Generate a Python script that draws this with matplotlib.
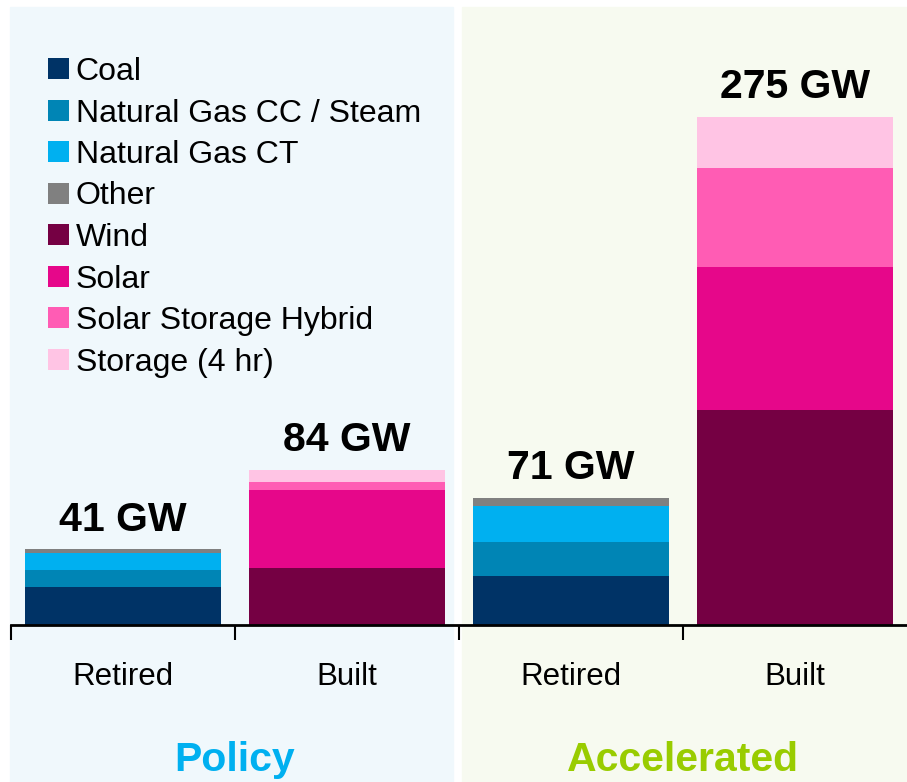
import numpy as np
import matplotlib.pyplot as plt
from matplotlib import font_manager
from matplotlib.patches import Rectangle

# pick a narrow font if we have one
names = set(f.name for f in font_manager.fontManager.ttflist)
if 'Liberation Sans Narrow' in names:
    plt.rcParams['font.family'] = 'Liberation Sans Narrow'
else:
    plt.rcParams['font.family'] = 'Liberation Sans'

categories = ['Retired', 'Built', 'Retired', 'Built']
scenarios = ['Policy', 'Accelerated']
totals = ['41 GW', '84 GW', '71 GW', '275 GW']

sources = ['Coal', 'Natural Gas CC / Steam', 'Natural Gas CT', 'Other',
           'Wind', 'Solar', 'Solar Storage Hybrid', 'Storage (4 hr)']
colors = ['#003366', '#0085B5', '#00B0F0', '#808080',
          '#750043', '#E6078A', '#FF5CB4', '#FFC4E4']

# GW per source for each bar
coal = [20.3, 0, 26.6, 0]
gas_cc = [9.2, 0, 18.4, 0]
gas_ct = [9.6, 0, 19.6, 0]
other = [1.9, 0, 4.2, 0]
wind = [0, 31.0, 0, 116.4]
solar = [0, 42.3, 0, 77.6]
hybrid = [0, 3.9, 0, 53.6]
storage = [0, 6.8, 0, 27.4]
values = [coal, gas_cc, gas_ct, other, wind, solar, hybrid, storage]

W, H = 907, 782
fig = plt.figure(figsize=(W / 100, H / 100), dpi=100)

# scenario background panels
fig.add_artist(Rectangle((10 / W, 0), 443 / W, (H - 7) / H,
                         transform=fig.transFigure, color='#F0F8FC', zorder=-10))
fig.add_artist(Rectangle((462 / W, 0), 445 / W, (H - 7) / H,
                         transform=fig.transFigure, color='#F7FAF0', zorder=-10))

ax = fig.add_axes([11 / W, (H - 625) / H, (W - 11) / W, (625 - 7) / H])
ax.set_facecolor('none')

x = np.arange(len(categories))
bottom = np.zeros(len(categories))
for name, vals, c in zip(sources, values, colors):
    ax.bar(x, vals, width=0.875, bottom=bottom, color=c, label=name, zorder=2)
    bottom += np.array(vals)

for xi, top, lab in zip(x, bottom, totals):
    ax.text(xi, top + 10, lab, ha='center', va='baseline', fontsize=29.5,
            fontweight='bold')

ax.set_xlim(-0.5, 3.5)
ax.set_ylim(0, 334.5)
ax.set_yticks([])
for s in ['top', 'right', 'left']:
    ax.spines[s].set_visible(False)
ax.spines['bottom'].set_linewidth(2)

ax.set_xticks([-0.5, 0.5, 1.5, 2.5])
ax.set_xticklabels([])
ax.tick_params(axis='x', direction='out', length=11, width=1.5)
for xi, lab in zip(x, categories):
    ax.text(xi, -32.5, lab, ha='center', va='baseline', fontsize=22.5)

ax.text(0.5, -79, scenarios[0], ha='center', va='baseline', fontsize=29.5,
        fontweight='bold', color='#00B0F0')
ax.text(2.5, -79, scenarios[1], ha='center', va='baseline', fontsize=29.5,
        fontweight='bold', color='#99CC00')

ax.legend(loc='upper left', bbox_to_anchor=(48 / W, (H - 57) / H),
          bbox_transform=fig.transFigure, frameon=False, fontsize=23,
          handlelength=0.65, handleheight=0.65, handletextpad=0.22,
          labelspacing=0.36, borderpad=0, borderaxespad=0)

fig.savefig('out.png', dpi=100)
